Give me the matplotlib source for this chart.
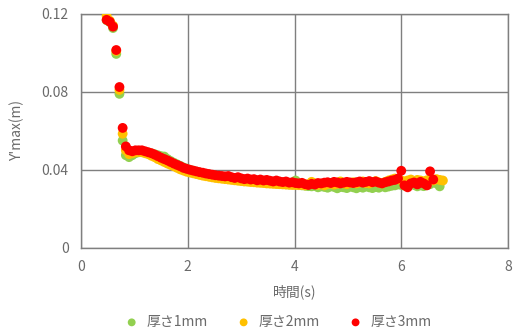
import matplotlib
matplotlib.use("Agg")
import matplotlib.pyplot as plt

plt.rcParams['font.family'] = ['Noto Sans CJK JP', 'DejaVu Sans']

# time (s), shared by the three series
t = [0.48, 0.54, 0.60, 0.66, 0.72, 0.78, 0.84, 0.90, 0.96, 1.02,
     1.08, 1.14, 1.20, 1.26, 1.32, 1.38, 1.44, 1.50, 1.56, 1.62,
     1.68, 1.74, 1.80, 1.86, 1.92, 1.98, 2.04, 2.10, 2.16, 2.22,
     2.28, 2.34, 2.40, 2.46, 2.52, 2.58, 2.64, 2.70, 2.76, 2.82,
     2.88, 2.94, 3.00, 3.06, 3.12, 3.18, 3.24, 3.30, 3.36, 3.42,
     3.48, 3.54, 3.60, 3.66, 3.72, 3.78, 3.84, 3.90, 3.96, 4.02,
     4.08, 4.14, 4.20, 4.26, 4.32, 4.38, 4.44, 4.50, 4.56, 4.62,
     4.68, 4.74, 4.80, 4.86, 4.92, 4.98, 5.04, 5.10, 5.16, 5.22,
     5.28, 5.34, 5.40, 5.46, 5.52, 5.58, 5.64, 5.70, 5.76, 5.82,
     5.88, 5.94, 6.00, 6.06, 6.12, 6.18, 6.24, 6.30, 6.36, 6.42,
     6.48, 6.54, 6.60, 6.66, 6.72, 6.78]

# Y'max (m), thickness 1mm
y_1mm = [0.1168, 0.1158, 0.1128, 0.0995, 0.0790, 0.0550, 0.0475, 0.0465, 0.0475, 0.0485,
         0.0490, 0.0492, 0.0490, 0.0488, 0.0484, 0.0480, 0.0475, 0.0470, 0.0468, 0.0455,
         0.0445, 0.0436, 0.0428, 0.0420, 0.0412, 0.0406, 0.0400, 0.0395, 0.0390, 0.0386,
         0.0382, 0.0378, 0.0375, 0.0372, 0.0369, 0.0366, 0.0364, 0.0362, 0.0360, 0.0358,
         0.0355, 0.0352, 0.0350, 0.0348, 0.0346, 0.0344, 0.0342, 0.0340, 0.0338, 0.0336,
         0.0334, 0.0332, 0.0331, 0.0330, 0.0328, 0.0327, 0.0326, 0.0325, 0.0330, 0.0345,
         0.0325, 0.0320, 0.0318, 0.0316, 0.0315, 0.0318, 0.0310, 0.0315, 0.0312, 0.0308,
         0.0315, 0.0312, 0.0305, 0.0312, 0.0310, 0.0306, 0.0314, 0.0310, 0.0305, 0.0312,
         0.0308, 0.0315, 0.0310, 0.0306, 0.0312, 0.0308, 0.0316, 0.0310, 0.0314, 0.0318,
         0.0320, 0.0325, 0.0322, 0.0318, 0.0325, 0.0330, 0.0322, 0.0315, 0.0320, 0.0316,
         0.0322, 0.0326, 0.0345, 0.0330, 0.0315]

# thickness 2mm
y_2mm = [0.1190, 0.1165, 0.1140, 0.1010, 0.0810, 0.0585, 0.0500, 0.0480, 0.0485, 0.0490,
         0.0492, 0.0490, 0.0485, 0.0480, 0.0472, 0.0465, 0.0455, 0.0448, 0.0440, 0.0432,
         0.0425, 0.0418, 0.0410, 0.0402, 0.0396, 0.0390, 0.0386, 0.0382, 0.0378, 0.0374,
         0.0370, 0.0367, 0.0364, 0.0361, 0.0358, 0.0356, 0.0354, 0.0352, 0.0350, 0.0348,
         0.0346, 0.0344, 0.0342, 0.0340, 0.0339, 0.0337, 0.0336, 0.0334, 0.0333, 0.0332,
         0.0330, 0.0329, 0.0328, 0.0327, 0.0326, 0.0325, 0.0324, 0.0323, 0.0322, 0.0322,
         0.0321, 0.0322, 0.0320, 0.0325, 0.0338, 0.0330, 0.0322, 0.0325, 0.0320, 0.0326,
         0.0330, 0.0324, 0.0328, 0.0340, 0.0330, 0.0326, 0.0332, 0.0336, 0.0330, 0.0335,
         0.0340, 0.0332, 0.0330, 0.0336, 0.0342, 0.0335, 0.0330, 0.0338, 0.0345, 0.0350,
         0.0355, 0.0352, 0.0345, 0.0340, 0.0345, 0.0350, 0.0342, 0.0348, 0.0345, 0.0340,
         0.0346, 0.0350, 0.0345, 0.0352, 0.0348, 0.0345]

# thickness 3mm
y_3mm = [0.1170, 0.1160, 0.1135, 0.1015, 0.0825, 0.0615, 0.0520, 0.0500, 0.0495, 0.0500,
         0.0500, 0.0500, 0.0495, 0.0490, 0.0485, 0.0478, 0.0470, 0.0462, 0.0455, 0.0448,
         0.0440, 0.0432, 0.0425, 0.0418, 0.0410, 0.0405, 0.0400, 0.0396, 0.0392, 0.0388,
         0.0385, 0.0381, 0.0378, 0.0375, 0.0372, 0.0370, 0.0368, 0.0366, 0.0368, 0.0362,
         0.0358, 0.0362, 0.0356, 0.0352, 0.0355, 0.0350, 0.0352, 0.0346, 0.0350, 0.0345,
         0.0348, 0.0344, 0.0340, 0.0345, 0.0340, 0.0337, 0.0340, 0.0334, 0.0336, 0.0332,
         0.0330, 0.0333, 0.0326, 0.0322, 0.0328, 0.0324, 0.0332, 0.0330, 0.0334, 0.0336,
         0.0332, 0.0338, 0.0335, 0.0330, 0.0334, 0.0338, 0.0335, 0.0332, 0.0336, 0.0340,
         0.0334, 0.0338, 0.0342, 0.0336, 0.0340, 0.0334, 0.0330, 0.0336, 0.0340, 0.0345,
         0.0348, 0.0355, 0.0395, 0.0320, 0.0310, 0.0330, 0.0335, 0.0325, 0.0338, 0.0330,
         0.0320, 0.0392, 0.0350]

labels = ['厚さ1mm', '厚さ2mm', '厚さ3mm']
colors = ['#92D050', '#FFC000', '#FF0000']

x_ticks = [0, 2, 4, 6, 8]
y_ticks = [0, 0.04, 0.08, 0.12]
y_tick_labels = ['0', '0.04', '0.08', '0.12']

fig = plt.figure(figsize=(5.18, 3.33), dpi=100)
ax = fig.add_axes([0.1564, 0.2562, 0.8243, 0.7018])

for y, c, lab in zip([y_1mm, y_2mm, y_3mm], colors, labels):
    ax.scatter(t[:len(y)], y, s=50, color=c, edgecolors='none', label=lab, zorder=3)

gray = '#7f7f7f'
txt = '#6a6a6a'
ax.set_xlim(0, 8)
ax.set_ylim(0, 0.12)
ax.set_xticks(x_ticks)
ax.set_yticks(y_ticks)
ax.set_yticklabels(y_tick_labels)
ax.grid(True, color=gray, linewidth=1.0)
ax.set_axisbelow(True)
for sp in ax.spines.values():
    sp.set_color(gray)
    sp.set_linewidth(1.0)
ax.tick_params(length=0, labelsize=10, labelcolor=txt, pad=9)

ax.set_xlabel('時間(s)', fontsize=10, color=txt, labelpad=7)
ax.set_ylabel("Y'max(m)", fontsize=10, color=txt, labelpad=12)

fig.legend(loc='center', bbox_to_anchor=(0.530, 0.033), ncol=3, frameon=False,
           fontsize=10, labelcolor=txt, handletextpad=0.05, columnspacing=1.6,
           markerscale=0.8, scatterpoints=1)

fig.savefig('out.png', dpi=100)
